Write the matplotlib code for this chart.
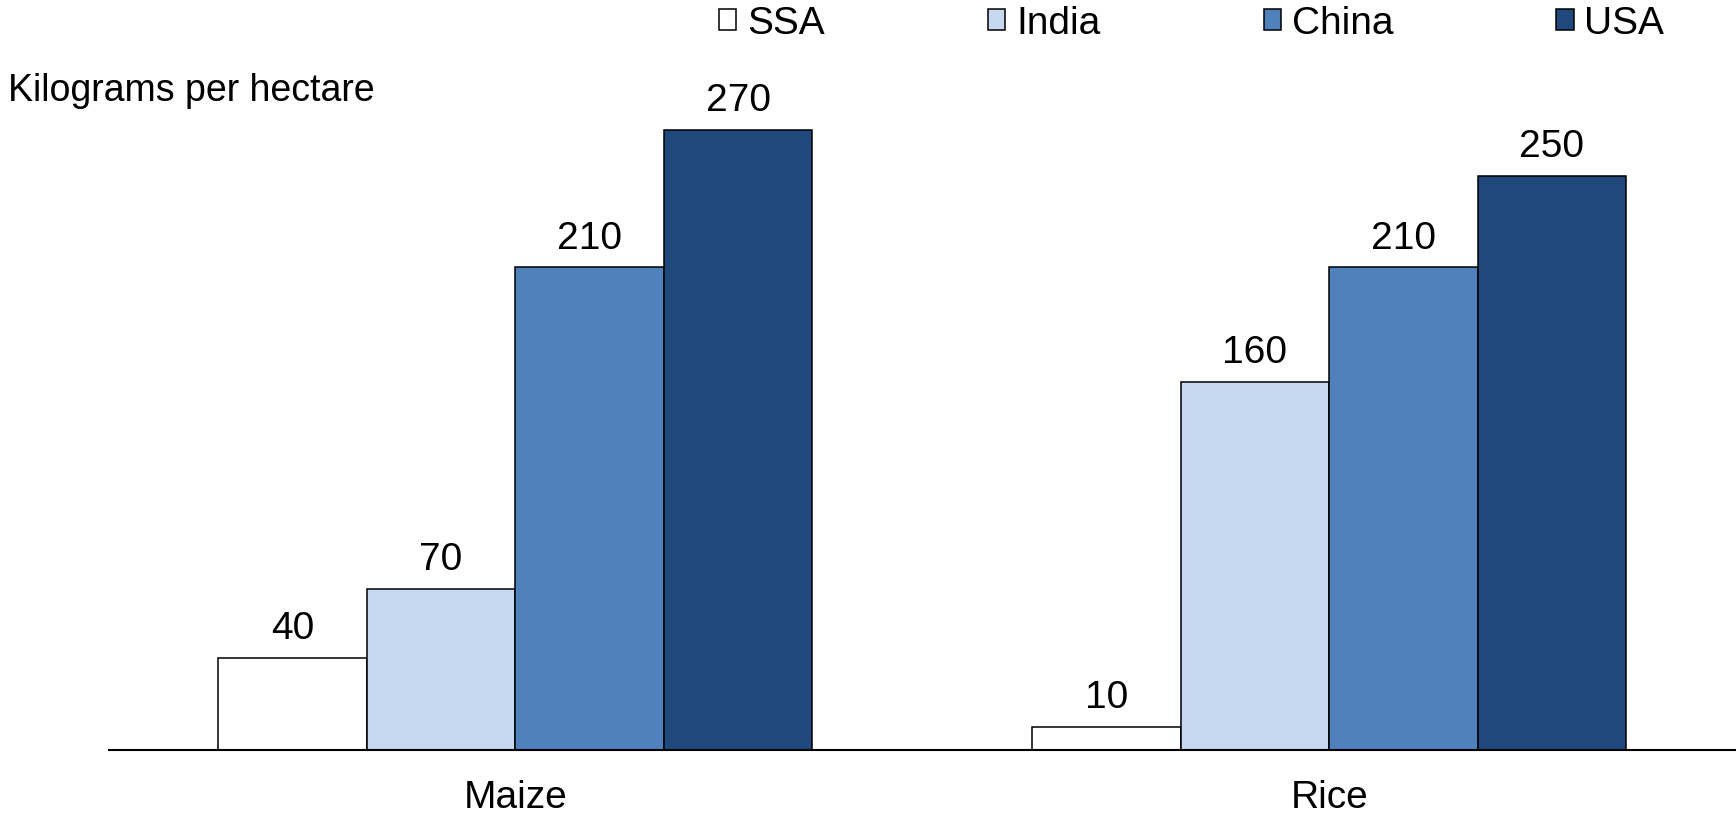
import matplotlib.pyplot as plt
import numpy as np

plt.rcParams['font.family'] = ['Liberation Sans', 'DejaVu Sans']

crops = ["Maize", "Rice"]
regions = ["SSA", "India", "China", "USA"]
ssa = [40, 10]
india = [70, 160]
china = [210, 210]
usa = [270, 250]
colors = ["#FFFFFF", "#C6D9F1", "#4F81BD", "#1F497D"]

fig = plt.figure(figsize=(17.36, 8.13), dpi=100)
ax = fig.add_axes([0.0625, 0.0781, 0.9375, 0.8472])

x = np.arange(len(crops))
width = 0.1825
series = [ssa, india, china, usa]
for i, vals in enumerate(series):
    pos = x + (i - 1.5) * width
    bars = ax.bar(pos, vals, width, color=colors[i], edgecolor="black",
                  linewidth=1.1, label=regions[i], zorder=2)
    for b, v in zip(bars, vals):
        ax.annotate(str(v), (b.get_x() + b.get_width() / 2, v),
                    xytext=(0, 13.5), textcoords="offset points",
                    ha="center", va="baseline", fontsize=28)

ax.set_xlim(-0.5, 1.5)
ax.set_ylim(0, 300)
ax.set_xticks(x)
ax.set_xticklabels(crops, fontsize=28)
ax.tick_params(axis="x", length=0, pad=22)
ax.set_yticks([])
for s in ["top", "right", "left"]:
    ax.spines[s].set_visible(False)
ax.spines["bottom"].set_linewidth(1.5)
ax.spines["bottom"].set_zorder(3)

fig.text(0.0046, 0.8885, "Kilograms per hectare", fontsize=27,
         ha="left", va="center")

ax.legend(loc="center left", bbox_to_anchor=(0.403, 0.971),
          bbox_transform=fig.transFigure, ncol=4, frameon=False,
          fontsize=28, borderpad=0, handlelength=0.44, handleheight=0.44,
          handletextpad=0.28, columnspacing=4.2)

fig.savefig("out.png", dpi=100)
